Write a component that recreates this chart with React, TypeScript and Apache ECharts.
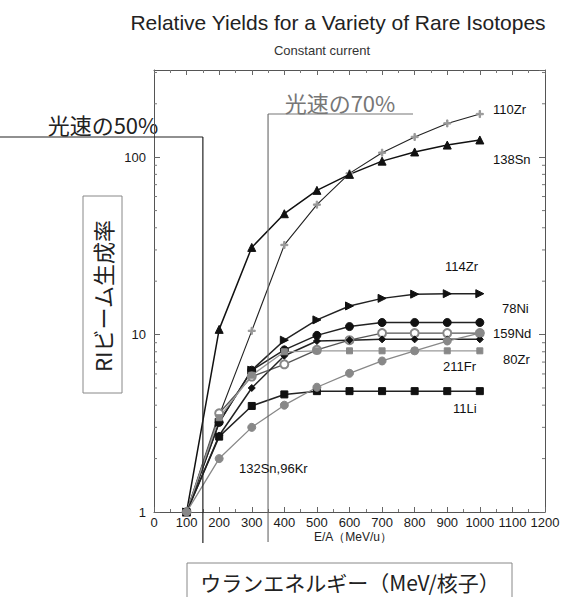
import React, { useEffect, useRef } from "react";
import * as echarts from "echarts";

// ---- data ----
const energies = [100, 200, 300, 400, 500, 600, 700, 800, 900, 1000];
const zr110 = [1, 3.5, 10.5, 32, 54, 81, 106, 130, 155, 175];
const sn138 = [1, 10.7, 31, 48, 65, 80, 95, 107, 117, 125];
const zr114 = [1, 3.2, 6.3, 9.3, 12.1, 14.5, 16, 16.9, 17, 17];
const ni78 = [1, 3.2, 6.3, 8.2, 9.9, 11.1, 11.7, 11.7, 11.7, 11.7];
const nd159 = [1, 3.6, 5.8, 6.8, 8.2, 9.3, 10.2, 10.2, 10.2, 10.2];
const zr80 = [1, 2.7, 5.0, 7.6, 9.2, 9.3, 9.4, 9.4, 9.4, 9.4];
const fr211 = [1, 3.4, 5.9, 8.0, 8.1, 8.1, 8.1, 8.1, 8.1, 8.1];
const li11 = [1, 2.66, 3.96, 4.6, 4.8, 4.8, 4.8, 4.8, 4.8, 4.8];
const sn132kr96 = [1, 2.0, 3.0, 4.0, 5.05, 6.05, 7.1, 8.1, 9.2, 10.2];

const seriesNames = ["110Zr", "138Sn", "114Zr", "78Ni", "159Nd", "80Zr", "211Fr", "11Li", "132Sn,96Kr"];
const yMinorTicks = [2, 3, 4, 5, 6, 7, 8, 9, 20, 30, 40, 50, 60, 70, 80, 90, 200, 300];
const speedMarkers = [150, 350]; // 光速の50%, 光速の70%

const TITLE = "Relative Yields for a Variety of Rare Isotopes";
const SUBTITLE = "Constant current";
const X_NAME = "E/A（MeV/u）";
const Y_BOX = "RIビーム生成率";
const X_BOX = "ウランエネルギー（MeV/核子）";
const LABEL_50 = "光速の50%";
const LABEL_70 = "光速の70%";

const LATIN = "'Liberation Sans', Arial, Helvetica, sans-serif";
const CJK = "'Noto Sans CJK JP', 'Liberation Sans', sans-serif";

const plus = "path://M4,0H6V4H10V6H6V10H4V6H0V4H4Z";

function pairs(ys: number[]) {
  return energies.map((e, i) => [e, ys[i]]);
}

export default function App() {
  const ref = useRef<HTMLDivElement>(null);
  useEffect(() => {
    if (!ref.current) return;
    const chart = echarts.init(ref.current, undefined, { renderer: "svg" });

    const mk = (
      name: string,
      ys: number[],
      symbol: string,
      size: number,
      lineColor: string,
      markerColor: string,
      lw: number,
      extra: any = {}
    ) => ({
      type: "line",
      name,
      data: pairs(ys),
      symbol,
      symbolSize: size,
      showAllSymbol: true,
      lineStyle: { color: lineColor, width: lw },
      itemStyle: { color: markerColor, borderColor: markerColor },
      z: 3,
      ...extra,
    });

    const axisLabelStyle = { color: "#1a1a1a", fontSize: 13, fontFamily: LATIN };

    const option: any = {
      animation: false,
      backgroundColor: "#fff",
      grid: { left: 154, right: 23, top: 70, bottom: 85, show: false },
      xAxis: [
        {
          type: "value",
          min: 0,
          max: 1200,
          interval: 100,
          position: "bottom",
          axisLine: { show: true, onZero: false, lineStyle: { color: "#555", width: 1 } },
          axisTick: { show: true, inside: true, length: 5, lineStyle: { color: "#666" } },
          minorTick: { show: true, splitNumber: 2, length: 3, lineStyle: { color: "#777" } },
          splitLine: { show: false },
          axisLabel: { ...axisLabelStyle, margin: 4, formatter: (v: number) => String(v) },
        },
        {
          type: "value",
          min: 0,
          max: 1200,
          interval: 100,
          position: "top",
          axisLine: { show: true, onZero: false, lineStyle: { color: "#555", width: 1 } },
          axisTick: { show: true, inside: true, length: 5, lineStyle: { color: "#666" } },
          minorTick: { show: true, splitNumber: 2, length: 3, lineStyle: { color: "#777" } },
          splitLine: { show: false },
          axisLabel: { show: false },
        },
      ],
      yAxis: [
        {
          type: "log",
          logBase: 10,
          min: 1,
          max: 310,
          position: "left",
          axisLine: { show: true, onZero: false, lineStyle: { color: "#555", width: 1 } },
          axisTick: { show: true, inside: true, length: 6, lineStyle: { color: "#666" } },
          splitLine: { show: false },
          axisLabel: { ...axisLabelStyle, margin: 8, showMaxLabel: false },
        },
        {
          type: "log",
          logBase: 10,
          min: 1,
          max: 310,
          position: "right",
          axisLine: { show: true, onZero: false, lineStyle: { color: "#555", width: 1 } },
          axisTick: { show: true, inside: true, length: 6, lineStyle: { color: "#666" } },
          splitLine: { show: false },
          axisLabel: { show: false },
        },
      ],
      series: [
        {
          type: "custom",
          name: "yMinor",
          xAxisIndex: 0,
          yAxisIndex: 0,
          silent: true,
          data: yMinorTicks.map((v) => [0, v]),
          renderItem: (params: any, api: any) => {
            const v = api.value(1);
            const l = api.coord([0, v]);
            const r = api.coord([1200, v]);
            const st = { stroke: "#777", lineWidth: 1 };
            return {
              type: "group",
              children: [
                { type: "line", shape: { x1: l[0], y1: l[1], x2: l[0] + 3, y2: l[1] }, style: st },
                { type: "line", shape: { x1: r[0] - 3, y1: r[1], x2: r[0], y2: r[1] }, style: st },
              ],
            };
          },
        },
        mk(seriesNames[0], zr110, plus, 7, "#222", "#999", 1.1),
        mk(seriesNames[1], sn138, "triangle", 8, "#111", "#111", 1.5),
        mk(seriesNames[2], zr114, "triangle", 8, "#222", "#111", 1.5, { symbolRotate: -90 }),
        mk(seriesNames[3], ni78, "circle", 8, "#222", "#111", 1.5),
        mk(seriesNames[4], nd159, "emptyCircle", 8, "#555", "#888", 1.3),
        mk(seriesNames[5], zr80, "diamond", 7, "#222", "#111", 1.5),
        mk(seriesNames[6], fr211, "rect", 6, "#999", "#888", 1.3),
        mk(seriesNames[7], li11, "rect", 7, "#222", "#111", 1.5),
        mk(seriesNames[8], sn132kr96, "circle", 8, "#888", "#888", 1.3),
      ],
    };
    chart.setOption(option);

    const px = (v: number) => chart.convertToPixel({ xAxisIndex: 0 }, v) as number;
    const x50 = px(speedMarkers[0]);
    const x70 = px(speedMarkers[1]);

    const seriesLabelPos: [number, number][] = [
      [493, 109],
      [493, 159],
      [445, 266],
      [502, 308],
      [493, 333],
      [503, 359],
      [443, 366],
      [453, 408],
      [239, 468],
    ];

    const graphic: any[] = [
      {
        type: "text",
        x: 338,
        y: 22,
        style: { text: TITLE, fill: "#222", font: `21px ${LATIN}`, textAlign: "center", textVerticalAlign: "middle" },
      },
      {
        type: "text",
        x: 322,
        y: 50,
        style: { text: SUBTITLE, fill: "#333", font: `13px ${LATIN}`, textAlign: "center", textVerticalAlign: "middle" },
      },
      {
        type: "text",
        x: 353,
        y: 537,
        style: { text: X_NAME, fill: "#222", font: `12px ${LATIN}`, textAlign: "center", textVerticalAlign: "middle" },
      },
      // 50% line
      { type: "line", shape: { x1: 0, y1: 137, x2: x50, y2: 137 }, style: { stroke: "#222", lineWidth: 1.2 }, z: 10 },
      { type: "line", shape: { x1: x50, y1: 137, x2: x50, y2: 543 }, style: { stroke: "#222", lineWidth: 1.2 }, z: 10 },
      {
        type: "text",
        x: 103,
        y: 124,
        style: { text: LABEL_50, fill: "#222", font: `22px ${CJK}`, textAlign: "center", textVerticalAlign: "middle" },
      },
      // 70% line
      { type: "line", shape: { x1: x70, y1: 114, x2: 413, y2: 114 }, style: { stroke: "#777", lineWidth: 1.1 }, z: 10 },
      { type: "line", shape: { x1: x70, y1: 114, x2: x70, y2: 542 }, style: { stroke: "#666", lineWidth: 1.1 }, z: 10 },
      {
        type: "text",
        x: 340,
        y: 102,
        style: { text: LABEL_70, fill: "#777", font: `22px ${CJK}`, textAlign: "center", textVerticalAlign: "middle" },
      },
      // left box
      { type: "rect", shape: { x: 83, y: 196, width: 39, height: 197 }, style: { fill: "none", stroke: "#888", lineWidth: 1 } },
      {
        type: "text",
        x: 102,
        y: 296,
        rotation: Math.PI / 2,
        style: { text: Y_BOX, fill: "#222", font: `22px ${CJK}`, textAlign: "center", textVerticalAlign: "middle" },
      },
      // bottom box
      { type: "rect", shape: { x: 187, y: 563, width: 325, height: 45 }, style: { fill: "none", stroke: "#888", lineWidth: 1 } },
      {
        type: "text",
        x: 350,
        y: 582,
        style: { text: X_BOX, fill: "#222", font: `21px ${CJK}`, textAlign: "center", textVerticalAlign: "middle" },
      },
    ];
    seriesNames.forEach((n, i) => {
      graphic.push({
        type: "text",
        x: seriesLabelPos[i][0],
        y: seriesLabelPos[i][1],
        style: { text: n, fill: "#111", font: `13px ${LATIN}`, textAlign: "left", textVerticalAlign: "middle" },
        z: 20,
      });
    });
    chart.setOption({ graphic });

    return () => chart.dispose();
  }, []);
  return <div ref={ref} style={{ position: "fixed", left: 0, top: 0, width: 568, height: 597 }} />;
}
